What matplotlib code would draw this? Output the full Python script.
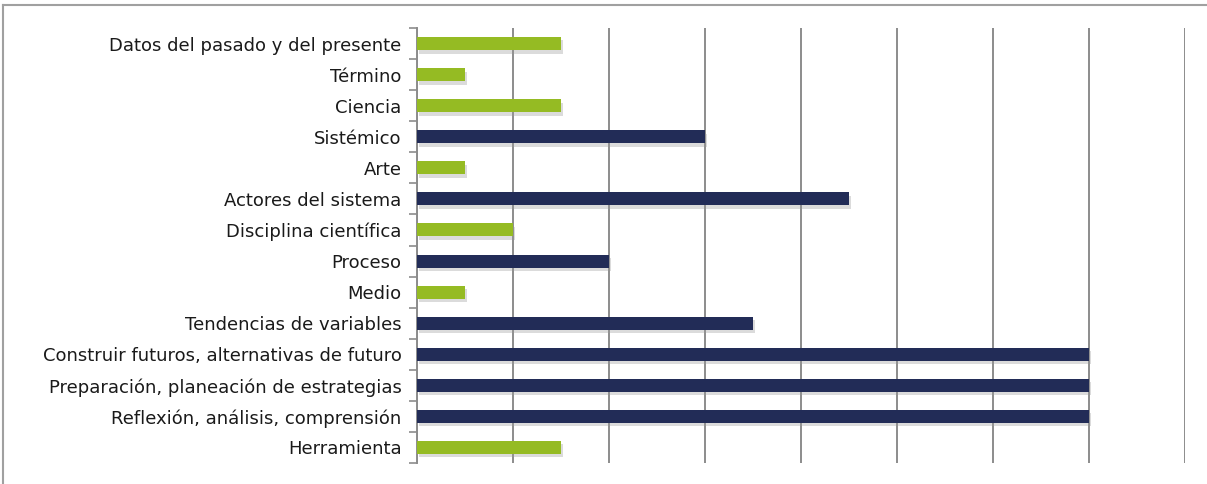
import matplotlib.pyplot as plt
import matplotlib.patheffects as pe
from matplotlib.lines import Line2D

plt.rcParams['font.family'] = ['DejaVu Sans']

categorias = [
    "Datos del pasado y del presente",
    "Término",
    "Ciencia",
    "Sistémico",
    "Arte",
    "Actores del sistema",
    "Disciplina científica",
    "Proceso",
    "Medio",
    "Tendencias de variables",
    "Construir futuros, alternativas de futuro",
    "Preparación, planeación de estrategias",
    "Reflexión, análisis, comprensión",
    "Herramienta",
]
valores = [3, 1, 3, 6, 1, 9, 2, 4, 1, 7, 14, 14, 14, 3]
destacado = [False, False, False, True, False, True, False, True, False, True, True, True, True, False]

VERDE = "#95bb23"
AZUL = "#222c57"
colores = [AZUL if d else VERDE for d in destacado]

fig = plt.figure(figsize=(12.07, 4.84), dpi=100)
ax = fig.add_axes([417 / 1207, 21 / 484, 768 / 1207, 435 / 484])

y = list(range(len(categorias)))
barras = ax.barh(y, valores, height=0.42, color=colores, zorder=3)
for b in barras:
    b.set_path_effects([pe.SimplePatchShadow(offset=(1.5, -2.5), shadow_rgbFace="#9a9a9a", alpha=0.35),
                        pe.Normal()])

ax.set_ylim(len(categorias) - 0.5, -0.5)
ax.set_xlim(0, 16)
ax.set_xticks(range(0, 17, 2))
ax.xaxis.grid(True, color="#8c8c8c", linewidth=1.4, zorder=0)
ax.tick_params(axis="x", length=0, labelbottom=False)

ax.set_yticks(y)
ax.set_yticklabels(categorias, fontsize=13)
ax.set_yticks([i - 0.5 for i in range(len(categorias) + 1)], minor=True)
ax.tick_params(axis="y", which="major", length=0, pad=11, colors="#1a1a1a")
ax.tick_params(axis="y", which="minor", length=6, width=1.2, color="#8c8c8c")

for s in ["top", "right", "bottom"]:
    ax.spines[s].set_visible(False)
ax.spines["left"].set_color("#8c8c8c")
ax.spines["left"].set_linewidth(1.4)

# marco exterior del gráfico
borde = dict(color="#a0a0a0", linewidth=1.5, transform=fig.transFigure)
fig.add_artist(Line2D([3 / 1207, 1], [1 - 5 / 484, 1 - 5 / 484], **borde))
fig.add_artist(Line2D([3 / 1207, 3 / 1207], [0, 1 - 5 / 484], **borde))

fig.savefig("out.png", dpi=100)
